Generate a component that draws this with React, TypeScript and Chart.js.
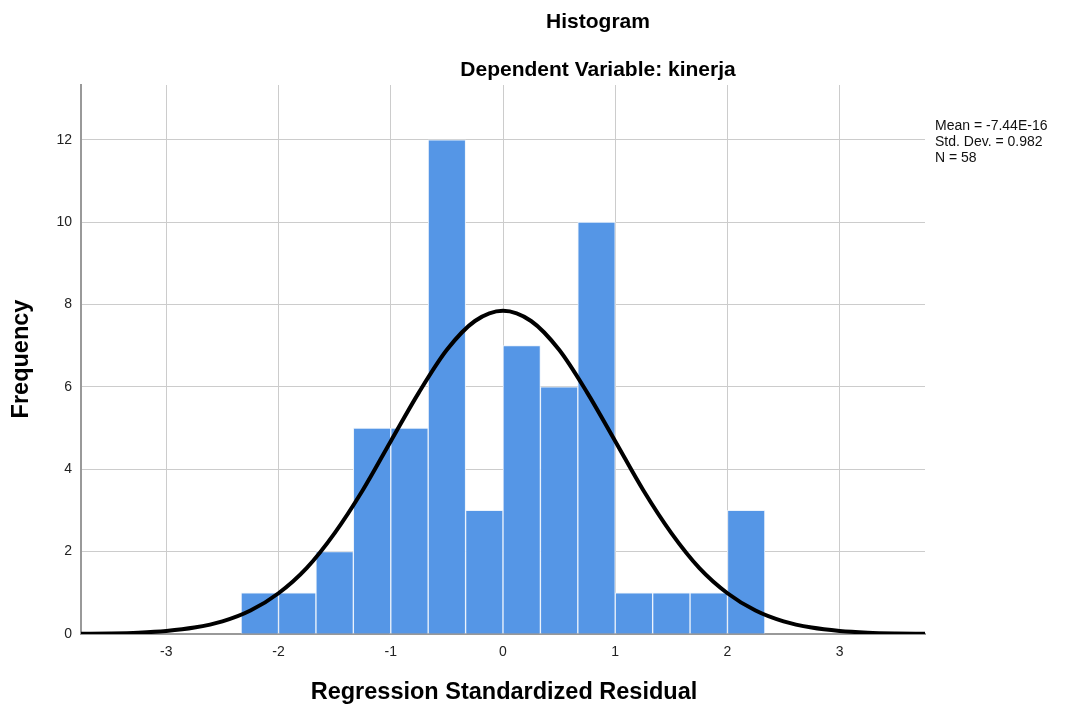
import React, { useEffect, useRef } from "react";
import { Chart, registerables } from "chart.js";

Chart.register(...registerables);

// Histogram bins (bin width 1/3, centres)
const binCenters = [-2.1667, -1.8333, -1.5, -1.1667, -0.8333, -0.5, -0.1667, 0.1667, 0.5, 0.8333, 1.1667, 1.5, 1.8333, 2.1667];
const frequencies = [1, 1, 2, 5, 5, 12, 3, 7, 6, 10, 1, 1, 1, 3];

// Normal curve
const curveX = [-3.76, -3.5, -3.25, -3, -2.75, -2.5, -2.25, -2, -1.75, -1.5, -1.25, -1, -0.75, -0.5, -0.25, 0, 0.25, 0.5, 0.75, 1, 1.25, 1.5, 1.75, 2, 2.25, 2.5, 2.75, 3, 3.25, 3.5, 3.76];
const curveY = [0.005, 0.014, 0.033, 0.074, 0.156, 0.307, 0.57, 0.99, 1.6, 2.45, 3.49, 4.68, 5.86, 6.9, 7.6, 7.85, 7.6, 6.9, 5.86, 4.68, 3.49, 2.45, 1.6, 0.99, 0.57, 0.307, 0.156, 0.074, 0.033, 0.014, 0.005];

const xTicks = [-3, -2, -1, 0, 1, 2, 3];
const yTicks = [0, 2, 4, 6, 8, 10, 12];

const titleText = "Histogram";
const subtitleText = "Dependent Variable: kinerja";
const xTitle = "Regression Standardized Residual";
const yTitle = "Frequency";
const statsLines = ["Mean = -7.44E-16", "Std. Dev. = 0.982", "N = 58"];

const FONT = "'Liberation Sans', Arial, sans-serif";

const textPlugin = {
  id: "texts",
  afterDraw(chart: any) {
    const ctx = chart.ctx;
    const area = chart.chartArea;
    ctx.save();
    ctx.fillStyle = "#000";
    ctx.textAlign = "center";
    ctx.textBaseline = "alphabetic";
    ctx.font = `bold 21px ${FONT}`;
    ctx.fillText(titleText, 598, 28);
    ctx.fillText(subtitleText, 598, 76);
    ctx.font = `bold 23.5px ${FONT}`;
    ctx.textBaseline = "middle";
    ctx.fillText(xTitle, (area.left + area.right) / 2 + 1, 693);
    ctx.save();
    ctx.translate(22, 359);
    ctx.rotate(-Math.PI / 2);
    ctx.fillText(yTitle, 0, 0);
    ctx.restore();
    ctx.font = `14px ${FONT}`;
    ctx.textAlign = "left";
    ctx.textBaseline = "alphabetic";
    ctx.fillStyle = "#111";
    statsLines.forEach((s, i) => ctx.fillText(s, 935, 130 + i * 16));
    ctx.restore();
  },
};

export default function App() {
  const ref = useRef<HTMLCanvasElement>(null);
  useEffect(() => {
    document.body.style.margin = "0";
    const chart = new Chart(ref.current as HTMLCanvasElement, {
      type: "bar",
      data: {
        datasets: [
          {
            type: "line",
            data: curveX.map((x, i) => ({ x, y: curveY[i] })),
            borderColor: "#000",
            borderWidth: 4,
            pointRadius: 0,
            tension: 0.4,
            cubicInterpolationMode: "monotone",
            fill: false,
            order: 0,
          } as any,
          {
            type: "bar",
            data: binCenters.map((x, i) => ({ x, y: frequencies[i] })),
            backgroundColor: "#5596e6",
            borderColor: "rgba(235,242,252,0.95)",
            borderWidth: { left: 1, right: 1, top: 1, bottom: 0 },
            borderSkipped: false,
            barPercentage: 1,
            categoryPercentage: 1,
            order: 1,
          } as any,
        ],
      },
      options: {
        animation: false,
        responsive: false,
        events: [],
        layout: { padding: { top: 85, right: 148, left: 0, bottom: 0 } },
        plugins: { legend: { display: false }, tooltip: { enabled: false } },
        scales: {
          x: {
            type: "linear",
            min: -3.76,
            max: 3.76,
            offset: false,
            afterBuildTicks: (s: any) => {
              s.ticks = xTicks.map((value) => ({ value }));
            },
            afterFit: (s: any) => {
              s.height = 79;
            },
            grid: { color: "#cccccc", lineWidth: 1, drawTicks: false, offset: false },
            border: { color: "#999999", width: 2 },
            ticks: { color: "#222", font: { family: FONT, size: 14 }, padding: 10, maxRotation: 0 },
          },
          y: {
            type: "linear",
            min: 0,
            max: 13.33,
            afterBuildTicks: (s: any) => {
              s.ticks = yTicks.map((value) => ({ value }));
            },
            afterFit: (s: any) => {
              s.width = 81;
            },
            grid: { color: "#cccccc", lineWidth: 1, drawTicks: false },
            border: { color: "#999999", width: 2 },
            ticks: { color: "#222", font: { family: FONT, size: 14 }, padding: 9 },
          },
        },
      } as any,
      plugins: [textPlugin],
    });
    return () => chart.destroy();
  }, []);
  return (
    <div style={{ width: 1073, height: 713, background: "#fff" }}>
      <canvas ref={ref} width={1073} height={713} style={{ display: "block" }} />
    </div>
  );
}
